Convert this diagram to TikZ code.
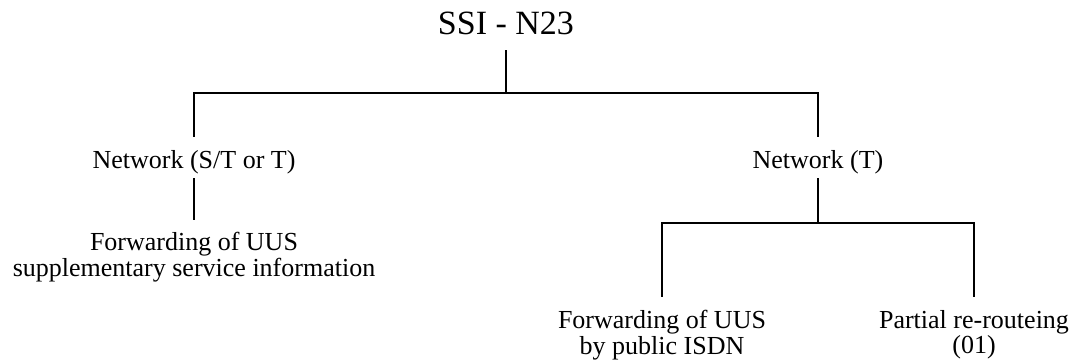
\documentclass[tikz,border=0pt]{standalone}
\usepackage{fontspec}
\setmainfont{Liberation Serif}
\begin{document}
\begin{tikzpicture}[x=0.5pt,y=-0.5pt,
  tree/.style={line width=1pt},
  titlebox/.style={font=\fontsize{17}{20}\selectfont, inner xsep=0pt, inner ysep=7.5pt, text depth=0pt},
  midbox/.style={font=\fontsize{13}{12.75}\selectfont, inner xsep=0pt, inner ysep=2pt, text height=13.75pt, text depth=2.75pt},
  leafbox/.style={font=\fontsize{13}{12.75}\selectfont, align=center, inner xsep=0pt}
]
\useasboundingbox (0,0) rectangle (1075,363);

% root and first level
\node[titlebox, anchor=base] (root) at (506,35) {SSI - N23};
\node[midbox, anchor=base] (net1) at (194,168.5) {Network (S/T or T)};
\node[midbox, anchor=base] (net2) at (818,168.5) {Network (T)};

% leaves
\node[leafbox, anchor=north, inner ysep=6pt] (fwd1) at (194,220)
  {Forwarding of UUS\\supplementary service information};
\node[leafbox, anchor=north, inner ysep=6.5pt] (fwd2) at (662,297)
  {Forwarding of UUS\\by public ISDN};
\node[leafbox, anchor=north, inner ysep=6.5pt] (rer) at (974,297)
  {Partial re-routeing\\(01)};

% connectors
\draw[tree] (root.south) -- ++(0,43) -| (net1.north);
\draw[tree] (root.south) -- ++(0,43) -| (net2.north);
\draw[tree] (net1.south) -- (fwd1.north);
\draw[tree] (net2.south) -- ++(0,45) -| (fwd2.north);
\draw[tree] (net2.south) -- ++(0,45) -| (rer.north);
\end{tikzpicture}
\end{document}
